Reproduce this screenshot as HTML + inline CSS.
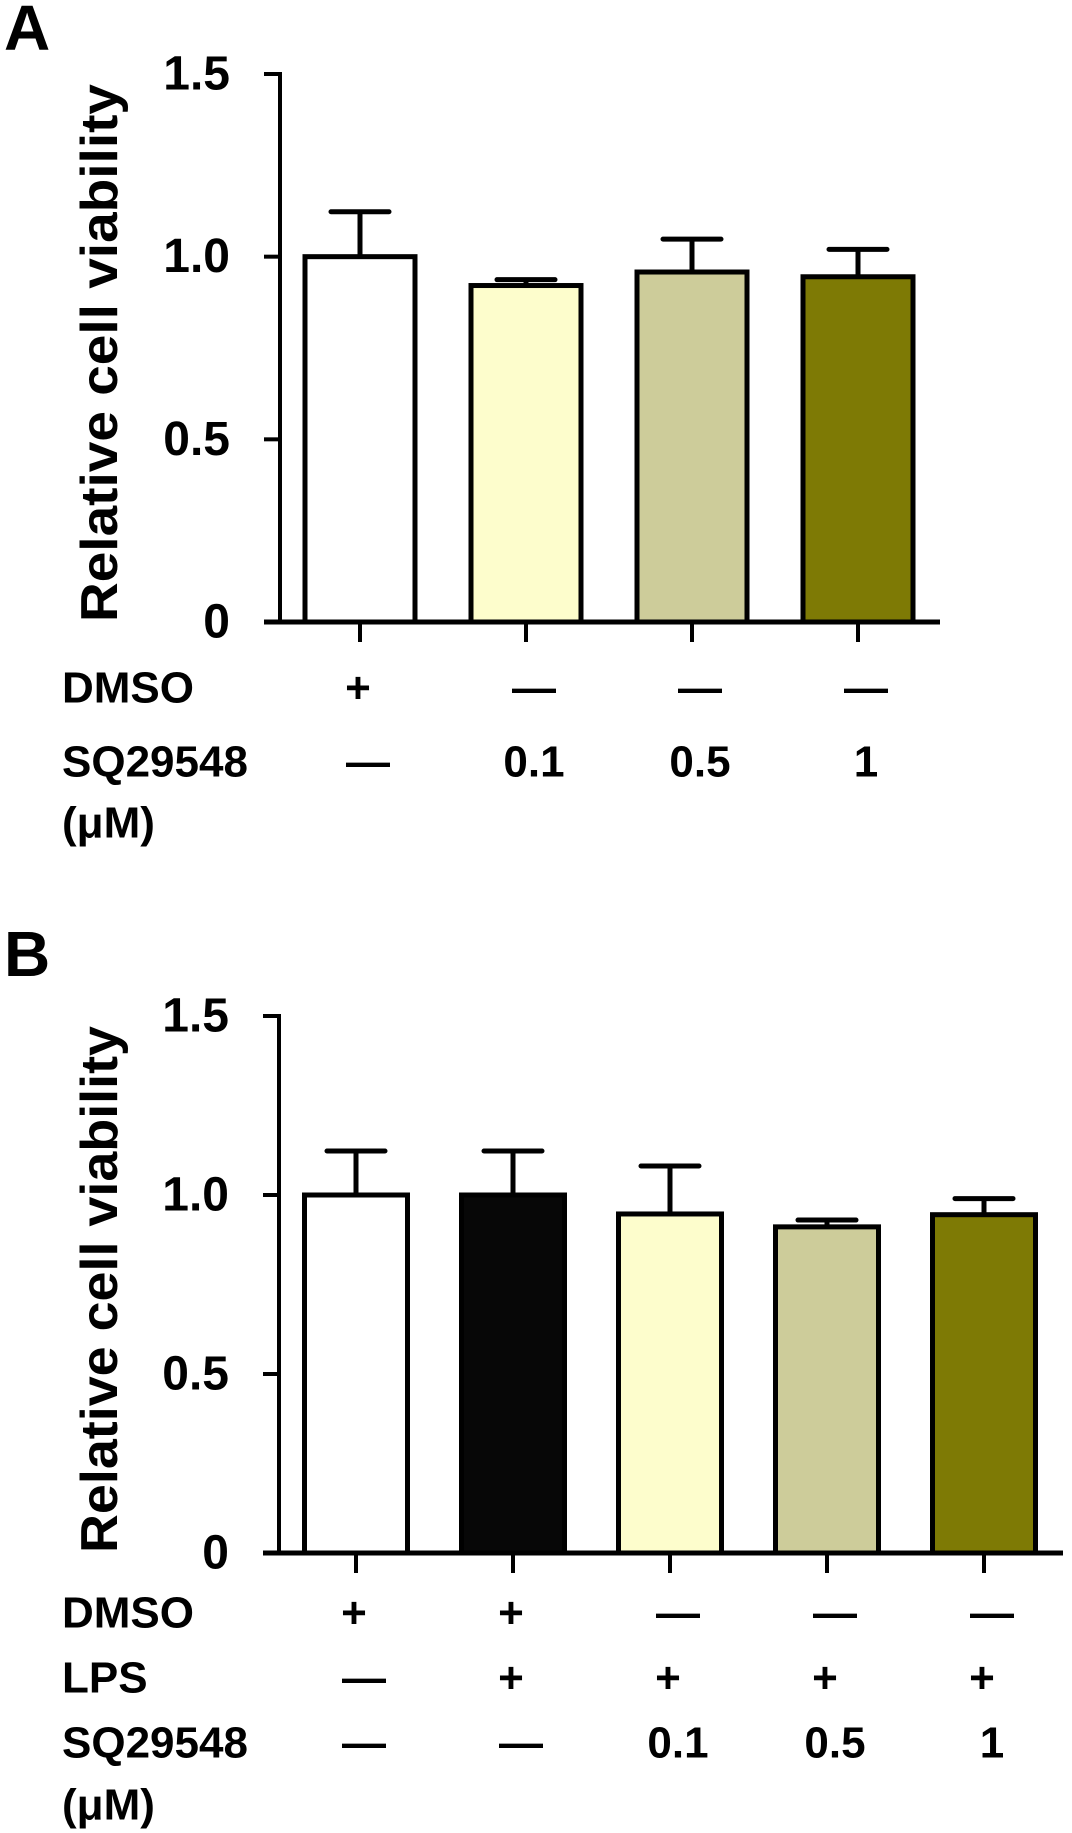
<!DOCTYPE html>
<html><head><meta charset="utf-8"><style>
html,body{margin:0;padding:0;background:#fff;}
svg{display:block;font-family:"Liberation Sans",Arial,sans-serif;font-weight:bold;}
</style></head><body>
<svg id="fig" width="1072" height="1833" viewBox="0 0 1072 1833" xmlns="http://www.w3.org/2000/svg"></svg>
<script>
// Panel A data
const aCategories = ["DMSO", "SQ 0.1", "SQ 0.5", "SQ 1"];
const aValues = [1.0, 0.921, 0.958, 0.945];
const aErrors = [0.123, 0.016, 0.09, 0.075];
const aColors = ["#ffffff", "#fdfdcc", "#cdcc9a", "#7e7a05"];
// Panel B data
const bCategories = ["DMSO", "DMSO+LPS", "LPS+SQ 0.1", "LPS+SQ 0.5", "LPS+SQ 1"];
const bValues = [1.0, 1.0, 0.947, 0.911, 0.945];
const bErrors = [0.123, 0.123, 0.134, 0.019, 0.045];
const bColors = ["#ffffff", "#070707", "#fdfdcc", "#cdcc9a", "#7e7a05"];
const yTicks = [0, 0.5, 1.0, 1.5];
const yTickLabels = ["0", "0.5", "1.0", "1.5"];
const aRows = [["DMSO", ["+", "—", "—", "—"]], ["SQ29548", ["—", "0.1", "0.5", "1"]]];
const bRows = [["DMSO", ["+", "+", "—", "—", "—"]], ["LPS", ["—", "+", "+", "+", "+"]], ["SQ29548", ["—", "—", "0.1", "0.5", "1"]]];

const NS = "http://www.w3.org/2000/svg";
const svg = document.getElementById("fig");
function el(tag, attrs, parent, txt) {
  const e = document.createElementNS(NS, tag);
  for (const k in attrs) e.setAttribute(k, attrs[k]);
  if (txt !== undefined) e.textContent = txt;
  (parent || svg).appendChild(e);
  return e;
}

function panel(cfg) {
  const g = el("g", {});
  
  
  const y = v => cfg.y0 + (cfg.y15 - cfg.y0) * v / 1.5;
  const n = cfg.values.length;
  const cx = i => cfg.firstCx + i * cfg.step;
  const L = el("text", {x: 4, y: cfg.letterY, "font-size": 64}, g, cfg.letter);
  
  
  const ax = el("line", {x1: cfg.axX, y1: y(1.5) - 2, x2: cfg.axX, y2: y(0) + 2, stroke: "#000", "stroke-width": 4}, g);
  
  
  yTicks.forEach((t, i) => {
    const tk = el("line", {x1: cfg.axX - 16, y1: y(t), x2: cfg.axX, y2: y(t), stroke: "#000", "stroke-width": 4}, g);
    
    
    const tl = el("text", {x: cfg.axX - 50, y: y(t), "text-anchor": "end", "dominant-baseline": "central", "font-size": 48}, g, yTickLabels[i]);
    
    
  });
  const tcY = (y(0) + y(1.5)) / 2;
  const yt = el("text", {x: 0, y: 0, "text-anchor": "middle", "dominant-baseline": "central", "font-size": 52,
    transform: `translate(${cfg.titleX},${tcY + 5}) rotate(-90)`, textLength: y(0) - y(1.5) - 10, lengthAdjust: "spacingAndGlyphs"}, g, "Relative cell viability");
  
  
  for (let i = 0; i < n; i++) {
    const x = cx(i) - cfg.barW / 2;
    const eb = el("path", {d: `M${cx(i)},${y(cfg.values[i])} V${y(cfg.values[i] + cfg.errors[i])} M${cx(i) - 29},${y(cfg.values[i] + cfg.errors[i])} H${cx(i) + 29}`, stroke: "#000", "stroke-width": 5, "stroke-linecap": "round", fill: "none"}, g);
    
    
    const r = el("rect", {x: x, y: y(cfg.values[i]), width: cfg.barW, height: y(0) - y(cfg.values[i]), fill: cfg.colors[i], stroke: "#000", "stroke-width": 5}, g);
    
    
    const xt = el("line", {x1: cx(i), y1: y(0), x2: cx(i), y2: y(0) + 20, stroke: "#000", "stroke-width": 4}, g);
    
    
  }
  const bl = el("line", {x1: cfg.axX - 16, y1: y(0), x2: cfg.baseEnd, y2: y(0), stroke: "#000", "stroke-width": 5}, g);
  
  
  cfg.rows.forEach((row, ri) => {
    const ry = cfg.rowYs[ri];
    const lb = el("text", {x: 62, y: ry, "dominant-baseline": "central", "font-size": 44}, g, row[0]);
    
    
    row[1].forEach((s, i) => {
      const st = el("text", {x: cx(i) + (s === "+" ? -2 : 8), y: ry, "text-anchor": "middle", "dominant-baseline": "central", "font-size": 44}, g, s);
      
      
    });
  });
  const mu = el("text", {x: 62, y: cfg.muY, "dominant-baseline": "central", "font-size": 44}, g, "(μM)");
  
  
}

panel({name: "panel-a", letter: "A", letterY: 50, values: aValues, errors: aErrors, colors: aColors,
  y0: 622, y15: 74, axX: 280, firstCx: 360, step: 166, barW: 110, baseEnd: 940, titleX: 100,
  rows: aRows, rowYs: [688, 762], muY: 823});
panel({name: "panel-b", letter: "B", letterY: 976, values: bValues, errors: bErrors, colors: bColors,
  y0: 1553, y15: 1016, axX: 279, firstCx: 356, step: 157, barW: 103, baseEnd: 1063, titleX: 100,
  rows: bRows, rowYs: [1613, 1678, 1743], muY: 1805});
</script>
</body></html>
